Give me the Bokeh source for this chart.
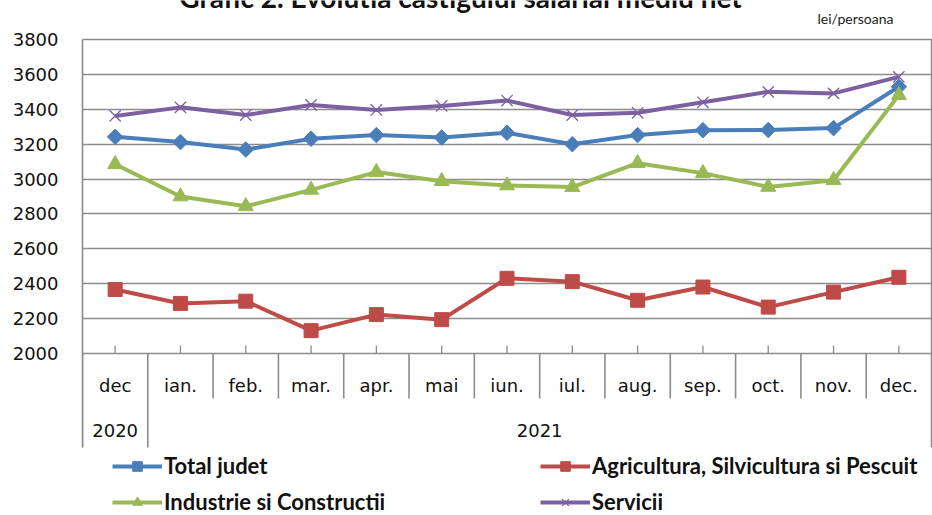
import math
from bokeh.plotting import figure
from bokeh.models import Range1d, FixedTicker, Label, Legend, LegendItem
from bokeh.embed import file_html
from bokeh.resources import INLINE
from bokeh.core.properties import value

# ---------------- data ----------------
title_text = "Grafic 2. Evolutia castigului salarial mediu net"
unit_text = "lei/persoana"
months = ["dec", "ian.", "feb.", "mar.", "apr.", "mai", "iun.", "iul.",
          "aug.", "sep.", "oct.", "nov.", "dec."]
years = ["2020", "2021"]
months_per_year = [1, 12]
series_names = ["Total judet", "Agricultura, Silvicultura si Pescuit",
                "Industrie si Constructii", "Servicii"]
total_judet = [3242, 3212, 3169, 3231, 3252, 3238, 3265, 3200, 3252, 3280, 3281, 3292, 3529]
agricultura = [2367, 2287, 2300, 2131, 2223, 2194, 2431, 2412, 2305, 2381, 2266, 2352, 2437]
industrie = [3085, 2900, 2844, 2938, 3040, 2988, 2963, 2954, 3091, 3034, 2955, 2993, 3481]
servicii = [3362, 3411, 3367, 3425, 3396, 3419, 3450, 3367, 3380, 3440, 3500, 3491, 3586]
y_ticks = [2000, 2200, 2400, 2600, 2800, 3000, 3200, 3400, 3600, 3800]

# ---------------- layout / style ----------------
W, H = 932, 515
LEFT = 82
TOP = 39                # pixels above the 3800 line
PLOT_H = 314            # pixel height of the value area (3800 -> 2000)
GRID = "#8c8c8c"
AXIS_FONT = "DejaVu Sans"
LEG_FONT = "Lato"
colors = ["#4A7EBB", "#BE4B48", "#98B954", "#7D60A0"]
markers = ["square", "square", "triangle", "x"]
angles = [math.pi / 4, 0, 0, 0]
sizes = [11, 14, 15, 16]

n = len(months)
xs = [i + 0.5 for i in range(n)]
y_min, y_max = y_ticks[0], y_ticks[-1]
units_per_px = (y_max - y_min) / PLOT_H
below_px = H - TOP - PLOT_H          # space under the value area (category table + legend)


def below(d):
    """data y for a point d pixels below the bottom of the value area"""
    return y_min - d * units_per_px


frame_w = W - LEFT
x_range = Range1d(0, n + 1.0 * n / frame_w)   # keeps the right border 1px inside
y_range = Range1d(below(below_px), y_max + TOP * units_per_px)

p = figure(width=W, height=H, x_range=x_range, y_range=y_range,
           output_backend="svg", toolbar_location=None,
           min_border_left=LEFT, min_border_right=0, min_border_top=0,
           min_border_bottom=0, x_axis_location=None)
p.background_fill_color = "white"
p.border_fill_color = "white"
p.outline_line_color = None
p.xgrid.visible = False
p.ygrid.ticker = FixedTicker(ticks=y_ticks)
p.ygrid.grid_line_color = GRID
p.ygrid.grid_line_width = 1.3
p.yaxis.ticker = FixedTicker(ticks=y_ticks)
p.yaxis.bounds = (below(94), y_max)
p.yaxis.axis_line_color = GRID
p.yaxis.axis_line_width = 1.6
p.yaxis.major_tick_line_color = None
p.yaxis.minor_tick_line_color = None
p.yaxis.major_label_standoff = 18
p.yaxis.major_label_text_font = AXIS_FONT
p.yaxis.major_label_text_font_size = "18px"
p.yaxis.major_label_text_color = "#111111"

# right border of the value area
p.segment(x0=[n], y0=[y_min], x1=[n], y1=[y_max], line_color=GRID, line_width=1.5)
# inward tick marks on the category axis
p.segment(x0=xs, y0=[y_min] * n, x1=xs, y1=[y_min + 8 * units_per_px] * n,
          line_color=GRID, line_width=1.3)

# category table (months / years)
year_bounds = [0]
for k in months_per_year:
    year_bounds.append(year_bounds[-1] + k)
bx = list(range(n + 1))
by1 = [below(94) if b in year_bounds else below(45) for b in bx]
p.segment(x0=bx, y0=[y_min] * len(bx), x1=bx, y1=by1, line_color=GRID, line_width=1.6)
p.text(x=xs, y=[below(32)] * n, text=months, text_align="center", text_baseline="middle",
       text_font=value(AXIS_FONT), text_font_size="18px", text_color="#111111")
year_x = [(year_bounds[i] + year_bounds[i + 1]) / 2 for i in range(len(years))]
p.text(x=year_x, y=[below(77)] * len(years), text=years, text_align="center",
       text_baseline="middle", text_font=value(AXIS_FONT), text_font_size="18px",
       text_color="#111111")

# series
series = [total_judet, agricultura, industrie, servicii]
items = []
for name, vals, c, m, a, s in zip(series_names, series, colors, markers, angles, sizes):
    lr = p.line(xs, vals, line_color=c, line_width=4, line_join="round")
    if m == "x":
        sr = p.scatter(xs, vals, marker=m, size=s, line_color=c, line_width=1.3)
    else:
        sr = p.scatter(xs, vals, marker=m, size=s, angle=a, fill_color=c, line_color=c)
    items.append(LegendItem(label=name, renderers=[lr, sr]))

# texts above the plot (frame covers the whole height, origin at its bottom-left)
p.add_layout(Label(x=773, y=H - 18, x_units="screen", y_units="screen",
                   text=unit_text, text_font=LEG_FONT, text_font_size="14px",
                   text_align="center", text_baseline="middle", text_color="#222222"))
# the title is cropped at the top edge, as in the reference picture
p.add_layout(Label(x=378, y=H + 4, x_units="screen", y_units="screen",
                   text=title_text, text_font=LEG_FONT, text_font_style="bold",
                   text_font_size="28px", text_align="center",
                   text_baseline="alphabetic", text_color="#111111"))

# legends (two columns)
leg_kw = dict(orientation="vertical", glyph_width=50, glyph_height=24, spacing=9,
              label_standoff=2, padding=0, margin=0, border_line_color=None,
              background_fill_alpha=0, label_text_font=LEG_FONT,
              label_text_font_style="bold", label_text_font_size="22px",
              label_text_color="#111111", label_height=24)
leg1 = Legend(items=[items[0], items[2]], location=(30, 0), **leg_kw)
leg2 = Legend(items=[items[1], items[3]], location=(458, 0), **leg_kw)
p.add_layout(leg1)
p.add_layout(leg2)

open("out.html", "w").write(file_html(p, INLINE))
